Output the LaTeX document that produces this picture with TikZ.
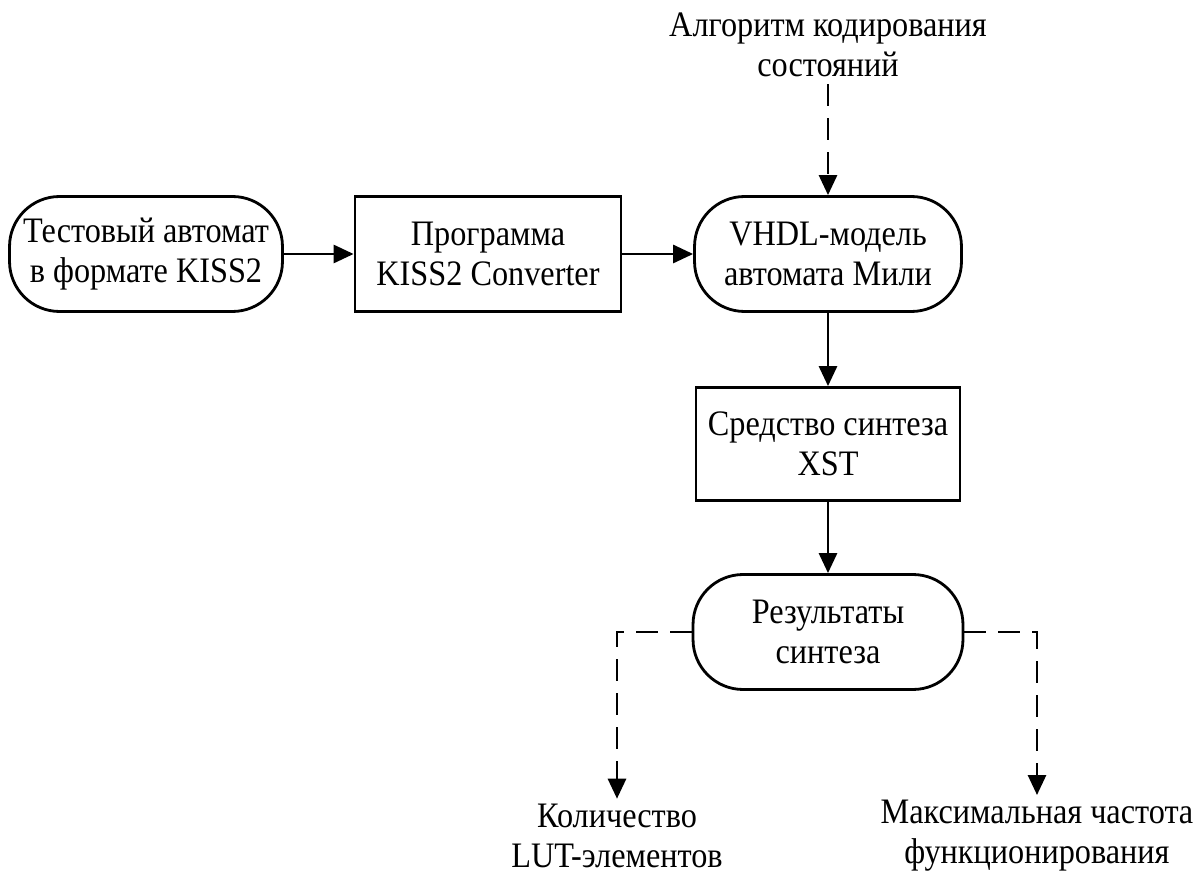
\documentclass[tikz,border=0pt]{standalone}
\usepackage{fontspec}
\setmainfont{Liberation Serif}[FakeStretch=0.9]
\usetikzlibrary{arrows.meta,positioning}

\begin{document}
\begin{tikzpicture}[x=0.02cm,y=-0.02cm,
    blok/.style={draw, line width=1.6pt, minimum width=5.32cm, minimum height=2.3cm,
        align=center, inner sep=0pt, font=\fontsize{20.4}{22.8}\selectfont},
    okno/.style={blok, rounded corners=1cm},
    strelka/.style={line width=1.6pt, -{Triangle[length=0.4cm,width=0.36cm]}},
    punktir/.style={strelka, dash pattern=on 0.44cm off 0.24cm},
    metka/.style={align=center, inner sep=0pt, font=\fontsize{20.4}{22.8}\selectfont}]
    \useasboundingbox (0,0) rectangle (1200,874);

    % Main chain
    \node[okno, minimum width=5.46cm] (test) at (146,254) {Тестовый автомат\\в формате KISS2};
    \node[blok] (prog) at (488,254) {Программа\\KISS2 Converter};
    \node[okno, minimum width=5.34cm] (vhdl) at (828,254) {VHDL-модель\\автомата Мили};
    \node[blok, minimum width=5.28cm, minimum height=2.26cm] (xst) at (828,444) {Средство синтеза\\XST};
    \node[okno, minimum width=5.4cm] (rez) at (828,632) {Результаты\\синтеза};

    % Inputs and outputs
    \node[metka] (algo) at (828,45) {Алгоритм кодирования\\состояний};
    \node[metka] (lut) at (617,836) {Количество\\LUT-элементов};
    \node[metka] (freq) at (1037,836) {Максимальная частота\\функционирования};

    % Connectors
    \draw[strelka] (test) -- (prog);
    \draw[strelka] (prog) -- (vhdl);
    \draw[strelka] (vhdl) -- (xst);
    \draw[strelka] (xst) -- (rez);
    \draw[punktir] ([yshift=-0.14cm]algo.south) -- (vhdl.north);
    \draw[punktir] (rez.west) -| ([yshift=0.1cm]lut.north);
    \draw[punktir] (rez.east) -| ([yshift=0.1cm]freq.north);
\end{tikzpicture}
\end{document}
